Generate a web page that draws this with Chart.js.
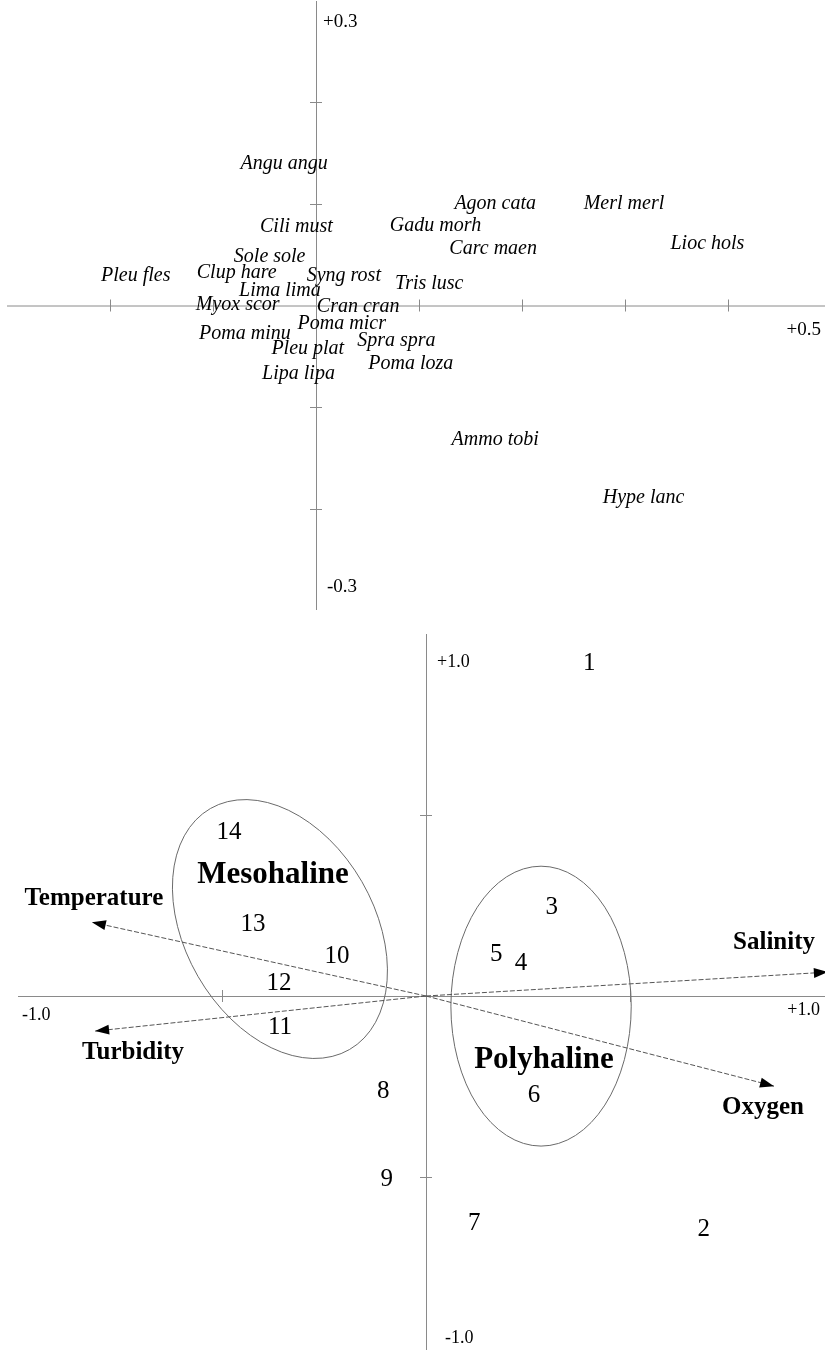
<!DOCTYPE html>
<html>
<head>
<meta charset="utf-8">
<script src="https://cdn.jsdelivr.net/npm/chart.js@4/dist/chart.umd.min.js"></script>
<style>
  html, body { margin: 0; padding: 0; background: #fff; width: 825px; height: 1350px; overflow: hidden; }
  .box { position: absolute; left: 0; }
</style>
</head>
<body>
<div class="box" style="top:0"><canvas id="species" width="840" height="620"></canvas></div>
<div class="box" style="top:620px"><canvas id="sites" width="840" height="740"></canvas></div>
<script>
// species scores (axis 1, axis 2)
var speciesNames = ['Angu angu', 'Agon cata', 'Merl merl', 'Cili must', 'Gadu morh', 'Carc maen', 'Lioc hols',
  'Sole sole', 'Pleu fles', 'Clup hare', 'Syng rost', 'Tris lusc', 'Lima lima', 'Myox scor', 'Cran cran',
  'Poma micr', 'Poma minu', 'Spra spra', 'Pleu plat', 'Poma loza', 'Lipa lipa', 'Ammo tobi', 'Hype lanc'];
var speciesX = [-0.031, 0.174, 0.299, -0.019, 0.116, 0.172, 0.380, -0.045, -0.175, -0.077, 0.027, 0.110,
  -0.035, -0.076, 0.041, 0.025, -0.069, 0.078, -0.008, 0.092, -0.017, 0.174, 0.318];
var speciesY = [0.140, 0.100, 0.100, 0.078, 0.079, 0.056, 0.061, 0.048, 0.029, 0.032, 0.029, 0.021,
  0.015, 0.001, -0.001, -0.018, -0.028, -0.035, -0.043, -0.057, -0.067, -0.132, -0.189];
var speciesXTicks = [-0.2, -0.1, 0.1, 0.2, 0.3, 0.4];
var speciesYTicks = [0.2, 0.1, -0.1, -0.2];

// site scores
var siteNames = ['1', '2', '3', '4', '5', '6', '7', '8', '9', '10', '11', '12', '13', '14'];
var siteX = [0.400, 0.681, 0.308, 0.233, 0.172, 0.265, 0.118, -0.105, -0.096, -0.218, -0.358, -0.360, -0.424, -0.483];
var siteY = [0.920, -0.644, 0.246, 0.091, 0.116, -0.276, -0.627, -0.265, -0.508, 0.108, -0.088, 0.036, 0.199, 0.453];

// environmental variables
var envNames = ['Temperature', 'Salinity', 'Turbidity', 'Oxygen'];
var envX = [-0.819, 0.985, -0.811, 0.853];
var envY = [0.204, 0.066, -0.097, -0.249];
var envLabelX = [-0.814, 0.853, -0.718, 0.826];
var envLabelY = [0.268, 0.149, -0.155, -0.307];

// groups
var groupNames = ['Mesohaline', 'Polyhaline'];
var groupLabelX = [-0.375, 0.289];
var groupLabelY = [0.334, -0.177];
var groupCentreX = [-0.358, 0.282];
var groupCentreY = [0.185, -0.028];
var groupRadiusA = [0.232, 0.221];
var groupRadiusB = [0.341, 0.343];
var groupTilt = [-30, 0];

var siteTicks = [-0.5, 0.5];

function pts(xs, ys) {
  return xs.map(function (x, i) { return { x: x, y: ys[i] }; });
}

function drawAxes(chart, xt, yt, half) {
  var ctx = chart.ctx, a = chart.chartArea;
  var xs = chart.scales.x, ys = chart.scales.y;
  var x0 = xs.getPixelForValue(0), y0 = ys.getPixelForValue(0);
  ctx.save();
  ctx.strokeStyle = '#8a8a8a';
  ctx.lineWidth = 1;
  ctx.beginPath();
  ctx.moveTo(a.left, y0 + 0.5); ctx.lineTo(a.right, y0 + 0.5);
  ctx.moveTo(x0 + 0.5, a.top); ctx.lineTo(x0 + 0.5, a.bottom);
  xt.forEach(function (v) {
    var p = Math.round(xs.getPixelForValue(v)) + 0.5;
    ctx.moveTo(p, y0 - half); ctx.lineTo(p, y0 + half);
  });
  yt.forEach(function (v) {
    var p = Math.round(ys.getPixelForValue(v)) + 0.5;
    ctx.moveTo(x0 - half, p); ctx.lineTo(x0 + half, p);
  });
  ctx.stroke();
  ctx.restore();
}

function text(ctx, s, x, y, font, align) {
  ctx.font = font;
  ctx.textAlign = align || 'center';
  ctx.textBaseline = 'middle';
  ctx.fillStyle = '#000';
  ctx.fillText(s, x, y);
}

var speciesPlugin = {
  id: 'speciesDecor',
  beforeDatasetsDraw: function (chart) {
    drawAxes(chart, speciesXTicks, speciesYTicks, 6);
  },
  afterDatasetsDraw: function (chart) {
    var ctx = chart.ctx, a = chart.chartArea;
    var xs = chart.scales.x, ys = chart.scales.y;
    var x0 = xs.getPixelForValue(0), y0 = ys.getPixelForValue(0);
    var f = '19px "Liberation Serif", "Times New Roman", serif';
    text(ctx, '+0.3', x0 + 7, a.top + 21, f, 'left');
    text(ctx, '+0.5', xs.getPixelForValue(0.5) - 10, y0 + 25, f, 'right');
    text(ctx, '-0.3', x0 + 11, a.bottom - 23, f, 'left');
    var fi = 'italic 20px "Liberation Serif", "Times New Roman", serif';
    speciesNames.forEach(function (n, i) {
      text(ctx, n, xs.getPixelForValue(speciesX[i]), ys.getPixelForValue(speciesY[i]), fi);
    });
  }
};

var sitesPlugin = {
  id: 'sitesDecor',
  beforeDatasetsDraw: function (chart) {
    var ctx = chart.ctx;
    var xs = chart.scales.x, ys = chart.scales.y;
    var unit = xs.getPixelForValue(1) - xs.getPixelForValue(0);
    drawAxes(chart, siteTicks, siteTicks, 6);
    ctx.save();
    ctx.strokeStyle = '#6a6a6a';
    ctx.lineWidth = 1;
    groupNames.forEach(function (g, i) {
      ctx.beginPath();
      ctx.ellipse(xs.getPixelForValue(groupCentreX[i]), ys.getPixelForValue(groupCentreY[i]),
        groupRadiusA[i] * unit, groupRadiusB[i] * unit, groupTilt[i] * Math.PI / 180, 0, Math.PI * 2);
      ctx.stroke();
    });
    ctx.restore();
  },
  afterDatasetsDraw: function (chart) {
    var ctx = chart.ctx, a = chart.chartArea;
    var xs = chart.scales.x, ys = chart.scales.y;
    var x0 = xs.getPixelForValue(0), y0 = ys.getPixelForValue(0);
    // arrow heads
    ctx.save();
    ctx.fillStyle = '#000';
    envNames.forEach(function (n, i) {
      var tx = xs.getPixelForValue(envX[i]), ty = ys.getPixelForValue(envY[i]);
      var ang = Math.atan2(ty - y0, tx - x0);
      ctx.beginPath();
      ctx.moveTo(tx, ty);
      ctx.lineTo(tx - 14 * Math.cos(ang) + 5 * Math.sin(ang), ty - 14 * Math.sin(ang) - 5 * Math.cos(ang));
      ctx.lineTo(tx - 14 * Math.cos(ang) - 5 * Math.sin(ang), ty - 14 * Math.sin(ang) + 5 * Math.cos(ang));
      ctx.closePath();
      ctx.fill();
    });
    ctx.restore();
    var f = '18px "Liberation Serif", "Times New Roman", serif';
    text(ctx, '+1.0', x0 + 11, a.top + 28, f, 'left');
    text(ctx, '-1.0', a.left + 4, y0 + 19, f, 'left');
    text(ctx, '+1.0', xs.getPixelForValue(1) - 14, y0 + 14, f, 'right');
    text(ctx, '-1.0', x0 + 19, a.bottom - 20, f, 'left');
    var fn = '25px "Liberation Serif", "Times New Roman", serif';
    siteNames.forEach(function (n, i) {
      text(ctx, n, xs.getPixelForValue(siteX[i]), ys.getPixelForValue(siteY[i]), fn);
    });
    var fb = 'bold 25px "Liberation Serif", "Times New Roman", serif';
    envNames.forEach(function (n, i) {
      text(ctx, n, xs.getPixelForValue(envLabelX[i]), ys.getPixelForValue(envLabelY[i]), fb);
    });
    var fg = 'bold 31px "Liberation Serif", "Times New Roman", serif';
    groupNames.forEach(function (n, i) {
      text(ctx, n, xs.getPixelForValue(groupLabelX[i]), ys.getPixelForValue(groupLabelY[i]), fg);
    });
  }
};

function hiddenScale(min, max) {
  return { type: 'linear', min: min, max: max, display: false };
}

new Chart(document.getElementById('species'), {
  type: 'scatter',
  data: {
    datasets: [{ label: 'species', data: pts(speciesX, speciesY), pointRadius: 0 }]
  },
  options: {
    responsive: false,
    animation: false,
    layout: { padding: { left: 7, right: 9, top: 1, bottom: 10 } },
    plugins: { legend: { display: false }, tooltip: { enabled: false } },
    scales: { x: hiddenScale(-0.3, 0.5), y: hiddenScale(-0.3, 0.3) }
  },
  plugins: [speciesPlugin]
});

var envSets = envNames.map(function (n, i) {
  return {
    type: 'line',
    label: n,
    data: [{ x: 0, y: 0 }, { x: envX[i], y: envY[i] }],
    borderColor: '#555',
    borderWidth: 1,
    borderDash: [5, 2],
    pointRadius: 0,
    fill: false
  };
});

new Chart(document.getElementById('sites'), {
  type: 'scatter',
  data: {
    datasets: [{ label: 'sites', data: pts(siteX, siteY), pointRadius: 0 }].concat(envSets)
  },
  options: {
    responsive: false,
    animation: false,
    layout: { padding: { left: 18, right: 6, top: 14, bottom: 2 } },
    plugins: { legend: { display: false }, tooltip: { enabled: false } },
    scales: { x: hiddenScale(-1, 1), y: hiddenScale(-1, 1) }
  },
  plugins: [sitesPlugin]
});
</script>
</body>
</html>
